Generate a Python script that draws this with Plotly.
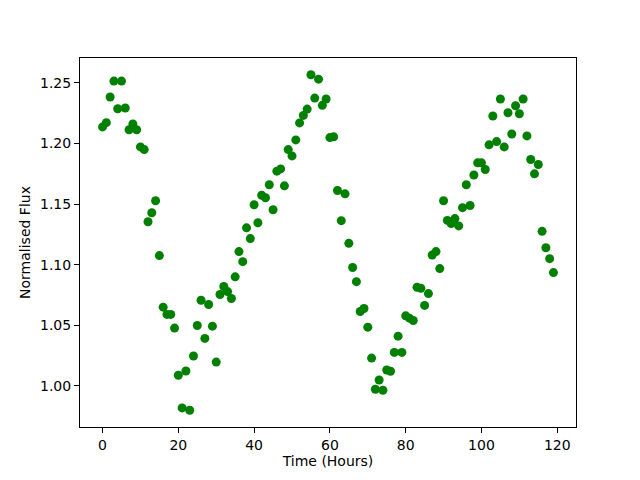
import plotly.graph_objects as go

hours = list(range(120))
flux = [
    1.2136, 1.2171, 1.2383, 1.2514, 1.2286, 1.2514, 1.2292, 1.2113, 1.2160, 1.2113,
    1.1971, 1.1949, 1.1354, 1.1428, 1.1527, 1.1075, 1.0650, 1.0590, 1.0590, 1.0477,
    1.0088, 0.9819, 1.0123, 0.9800, 1.0247, 1.0499, 1.0707, 1.0392, 1.0672, 1.0493,
    1.0197, 1.0754, 1.0820, 1.0778, 1.0721, 1.0900, 1.1108, 1.1025, 1.1304, 1.1215,
    1.1494, 1.1346, 1.1573, 1.1552, 1.1659, 1.1453, 1.1771, 1.1790, 1.1650, 1.1949,
    1.1897, 1.2029, 1.2169, 1.2231, 1.2283, 1.2566, 1.2374, 1.2530, 1.2314, 1.2366,
    1.2048, 1.2054, 1.1612, 1.1363, 1.1584, 1.1176, 1.0977, 1.0860, 1.0614, 1.0639,
    1.0485, 1.0230, 0.9973, 1.0049, 0.9965, 1.0132, 1.0121, 1.0277, 1.0411, 1.0277,
    1.0578, 1.0559, 1.0540, 1.0814, 1.0806, 1.0664, 1.0762, 1.1080, 1.1108, 1.0968,
    1.1527, 1.1365, 1.1340, 1.1380, 1.1320, 1.1470, 1.1659, 1.1488, 1.1740, 1.1840,
    1.1840, 1.1785, 1.1988, 1.2226, 1.2015, 1.2366, 1.1971, 1.2253, 1.2078, 1.2311,
    1.2245, 1.2366, 1.2062, 1.1867, 1.1749, 1.1826, 1.1275, 1.1140, 1.1050, 1.0935,
]
x_ticks = [0, 20, 40, 60, 80, 100, 120]
y_ticks = [1.00, 1.05, 1.10, 1.15, 1.20, 1.25]

xmin, xmax = min(hours), max(hours)
ymin, ymax = min(flux), max(flux)
xm = (xmax - xmin) * 0.05
ym = (ymax - ymin) * 0.05

fig = go.Figure(go.Scatter(
    x=hours, y=flux, mode="markers",
    marker=dict(color="#008000", size=9, line=dict(width=0)),
))

axis_common = dict(
    showgrid=False, zeroline=False, showline=True, mirror=True,
    linecolor="black", linewidth=1, ticks="outside", ticklen=5,
    tickcolor="black", tickfont=dict(size=14, color="black"),
    automargin=False,
)
# page body has an 8px default margin, so margins are shifted by 8px
fig.update_layout(
    width=640, height=480,
    margin=dict(l=72, r=72, t=50, b=61),
    paper_bgcolor="white", plot_bgcolor="white",
    font=dict(family="DejaVu Sans", size=14, color="black"),
    showlegend=False,
    xaxis=dict(range=[xmin - xm, xmax + xm], tickvals=x_ticks,
               title=dict(text="Time (Hours)", standoff=4, font=dict(size=14)),
               **axis_common),
    yaxis=dict(range=[ymin - ym, ymax + ym], tickvals=y_ticks, tickformat=".2f",
               title=dict(text="Normalised Flux", standoff=6, font=dict(size=14)),
               **axis_common),
)
fig.write_html("out.html")
